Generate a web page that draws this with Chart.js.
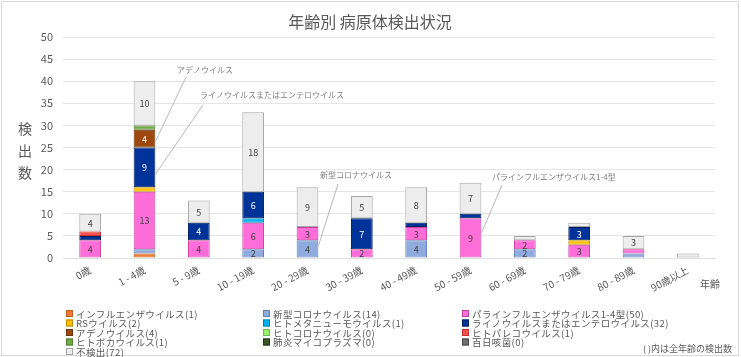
<!DOCTYPE html>
<html><head><meta charset="utf-8">
<script src="https://cdn.jsdelivr.net/npm/chart.js@4.4.1/dist/chart.umd.min.js"></script>
<style>html,body{margin:0;padding:0;background:#fff;}#wrap{width:741px;height:357px;position:relative;}</style>
</head><body><div id="wrap"><canvas id="c" width="741" height="357"></canvas></div>
<script>
const categories = ['0歳','1 - 4歳','5 - 9歳','10 - 19歳','20 - 29歳','30 - 39歳','40 - 49歳','50 - 59歳','60 - 69歳','70 - 79歳','80 - 89歳','90歳以上'];
const influenza     = [0,1,0,0,0,0,0,0,0,0,0,0];
const covid         = [0,1,0,2,4,0,4,0,2,0,1,0];
const parainfluenza = [4,13,4,6,3,2,3,9,2,3,1,0];
const rsv           = [0,1,0,0,0,0,0,0,0,1,0,0];
const metapneumo    = [0,0,0,1,0,0,0,0,0,0,0,0];
const rhino         = [1,9,4,6,0,7,1,1,0,3,0,0];
const adeno         = [0,4,0,0,0,0,0,0,0,0,0,0];
const humanCorona   = [0,0,0,0,0,0,0,0,0,0,0,0];
const parecho       = [1,0,0,0,0,0,0,0,0,0,0,0];
const boca          = [0,1,0,0,0,0,0,0,0,0,0,0];
const mycoplasma    = [0,0,0,0,0,0,0,0,0,0,0,0];
const pertussis     = [0,0,0,0,0,0,0,0,0,0,0,0];
const notDetected   = [4,10,5,18,9,5,8,7,1,1,3,1];
const yTickMax = 50, yTickStep = 5;

const FONT = '"Noto Sans CJK JP", "Noto Sans", sans-serif';
const series = [
  ['インフルエンザウイルス', influenza, '#ED7D31', '#C0601F'],
  ['新型コロナウイルス', covid, '#8FAADC', '#6482B8'],
  ['パラインフルエンザウイルス1-4型', parainfluenza, '#FF6ED8', '#C8409E'],
  ['RSウイルス', rsv, '#FFC000', '#C09000'],
  ['ヒトメタニューモウイルス', metapneumo, '#00B0F0', '#0082B8'],
  ['ライノウイルスまたはエンテロウイルス', rhino, '#003399', '#00205F'],
  ['アデノウイルス', adeno, '#9E480E', '#6E300A'],
  ['ヒトコロナウイルス', humanCorona, '#99F06A', '#6CBC48'],
  ['ヒトパレコウイルス', parecho, '#FF5050', '#C83232'],
  ['ヒトボカウイルス', boca, '#70AD47', '#507E32'],
  ['肺炎マイコプラズマ', mycoplasma, '#375623', '#243A17'],
  ['百日咳菌', pertussis, '#6E6E6E', '#4A4A4A'],
  ['不検出', notDetected, '#EDEDED', '#A6A6A6']
];
const datasets = series.map(s => ({
  label: s[0], data: s[1], backgroundColor: s[2], borderColor: s[3],
  borderWidth: 1, borderSkipped: false, stack: 'a',
  barPercentage: 0.4, categoryPercentage: 1.0
}));

const annotations = [
  {text:'アデノウイルス', cat:1, ds:6, ax:11, ay:-0.6, tx:186, ty:77, lx:177, ly:70},
  {text:'ライノウイルスまたはエンテロウイルス', cat:1, ds:5, ax:11, ay:-1.5, tx:203, ty:105, lx:200, ly:95},
  {text:'新型コロナウイルス', cat:4, ds:1, ax:11, ay:0.8, tx:338, ty:184, lx:320, ly:175},
  {text:'パラインフルエンザウイルス1-4型', cat:7, ds:2, ax:11, ay:1.2, tx:502, ty:185, lx:492, ly:177}
];

const deco = {
  id: 'deco',
  afterDatasetsDraw(chart) {
    const ctx = chart.ctx;
    ctx.save();
    ctx.textAlign = 'center'; ctx.textBaseline = 'middle';
    ctx.font = '9px ' + FONT;
    chart.data.datasets.forEach((ds, di) => {
      const meta = chart.getDatasetMeta(di);
      meta.data.forEach((bar, i) => {
        const v = ds.data[i];
        if (v >= 2) {
          const dark = (di === 5 || di === 6);
          ctx.fillStyle = dark ? '#ffffff' : '#404040';
          ctx.fillText(String(v), bar.x, (bar.y + bar.base) / 2 + 0.5);
        }
      });
    });
    ctx.restore();
  },
  afterDraw(chart) {
    const ctx = chart.ctx;
    const ys = chart.scales.y;
    ctx.save();
    ctx.strokeStyle = '#D9D9D9'; ctx.lineWidth = 1;
    ctx.strokeRect(1.5, 1.5, 737, 354);
    ctx.fillStyle = '#595959';
    ctx.textAlign = 'center'; ctx.textBaseline = 'middle';
    ctx.font = '16px ' + FONT;
    ctx.fillText('年齢別 病原体検出状況', 370, 22);
    ctx.font = '14px ' + FONT;
    ['検','出','数'].forEach((ch, k) => ctx.fillText(ch, 25, 129 + k * 22));
    ctx.font = '10px ' + FONT;
    ctx.fillText('年齢', 710, 284);
    ctx.font = '8px ' + FONT;
    ctx.textAlign = 'left';
    annotations.forEach(a => {
      const bar = chart.getDatasetMeta(a.ds).data[a.cat];
      const v = chart.data.datasets[a.ds].data[a.cat];
      let base = 0;
      for (let d = 0; d < a.ds; d++) base += chart.data.datasets[d].data[a.cat];
      const ax = bar.x + a.ax;
      const ay = ys.getPixelForValue(base + v / 2 + a.ay);
      ctx.strokeStyle = '#A6A6A6'; ctx.lineWidth = 0.8;
      ctx.beginPath(); ctx.moveTo(ax, ay); ctx.lineTo(a.tx, a.ty); ctx.stroke();
      ctx.fillStyle = '#7F7F7F';
      ctx.fillText(a.text, a.lx, a.ly);
    });
    const colX = [66, 263, 462];
    ctx.font = '9.5px ' + FONT;
    ctx.textBaseline = 'middle';
    chart.data.datasets.forEach((ds, i) => {
      const x = colX[i % 3];
      const y = 313.5 + Math.floor(i / 3) * 9.5;
      ctx.letterSpacing = '0px';
      ctx.fillStyle = ds.backgroundColor;
      ctx.fillRect(x, y - 3.5, 7, 7);
      ctx.strokeStyle = ds.borderColor; ctx.lineWidth = 1;
      ctx.strokeRect(x + 0.5, y - 3, 6, 6);
      const total = ds.data.reduce((p, q) => p + q, 0);
      ctx.fillStyle = '#595959';
      ctx.letterSpacing = '0.4px';
      ctx.fillText(ds.label + '(' + total + ')', x + 10, y + 0.5);
    });
    ctx.letterSpacing = '0px';
    ctx.font = '9px ' + FONT;
    ctx.textAlign = 'right';
    ctx.fillText('( )内は全年齢の検出数', 732, 349);
    ctx.restore();
  }
};

new Chart(document.getElementById('c'), {
  type: 'bar',
  data: { labels: categories, datasets },
  options: {
    responsive: false, animation: false, devicePixelRatio: 1,
    layout: { padding: { top: 37, right: 26, bottom: 52, left: 0 } },
    plugins: { legend: { display: false }, tooltip: { enabled: false }, title: { display: false } },
    scales: {
      x: {
        stacked: true,
        grid: { display: false, drawTicks: false },
        border: { display: true, color: '#E0E0E0' },
        ticks: { color: '#595959', font: { size: 10, family: FONT }, minRotation: 28, maxRotation: 28, padding: 6, autoSkip: false },
        afterFit: s => { s.height = 47; }
      },
      y: {
        stacked: true, min: 0, max: yTickMax,
        grid: { color: '#E6E6E6', drawTicks: false },
        border: { display: false },
        ticks: { stepSize: yTickStep, color: '#595959', font: { size: 11, family: FONT }, padding: 10 },
        afterFit: s => { s.width = 63; }
      }
    }
  },
  plugins: [deco]
});
</script></body></html>
